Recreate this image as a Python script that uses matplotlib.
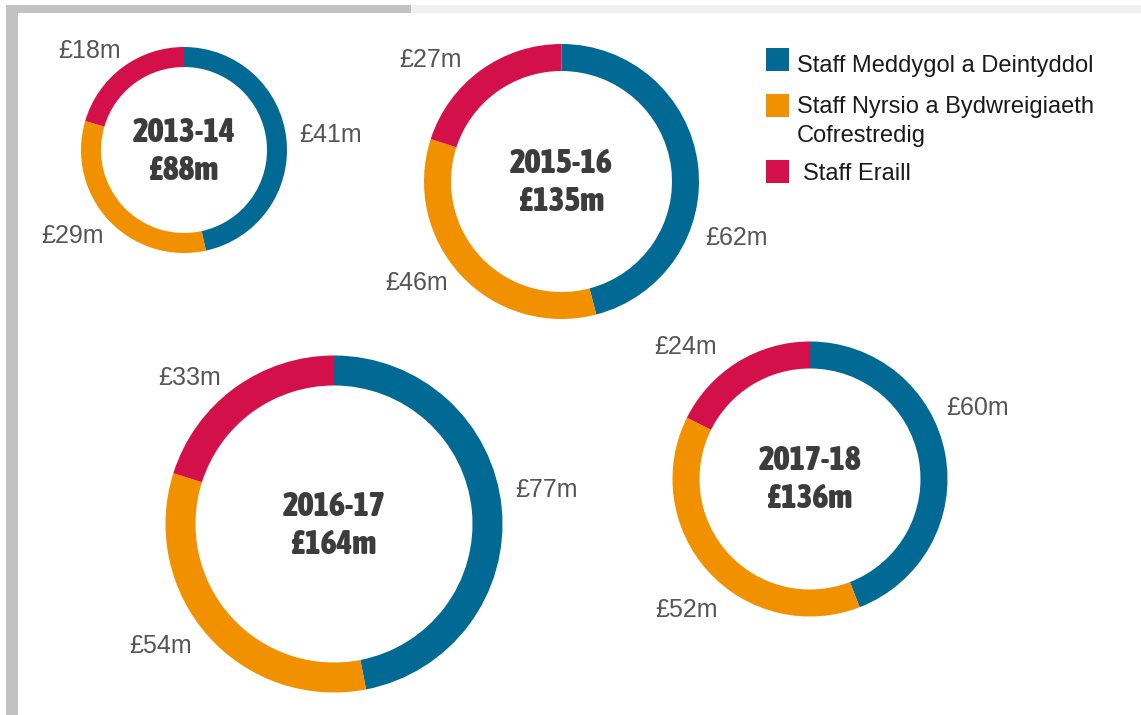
import matplotlib
matplotlib.use("Agg")
import matplotlib.pyplot as plt
from matplotlib.patches import Wedge, Rectangle
from matplotlib import font_manager

# data
years = ['2013-14', '2015-16', '2016-17', '2017-18']
totals = [88, 135, 164, 136]
medical = [41, 62, 77, 60]   # Staff Meddygol a Deintyddol
nursing = [29, 46, 54, 52]   # Staff Nyrsio a Bydwreigiaeth Cofrestredig
other = [18, 27, 33, 24]     # Staff Eraill
legend_labels = ['Staff Meddygol a Deintyddol',
                 'Staff Nyrsio a Bydwreigiaeth\nCofrestredig',
                 'Staff Eraill']

colors = ['#006a94', '#f29100', '#d4104a']

# layout (pixels): donut centre, outer radius, ring width
centres = [(184, 150), (561.5, 181.5), (334, 524), (810, 479)]
radii = [103, 137.5, 168.5, 137.5]
ring = [20, 27, 30, 27]
# label anchor (x centre, baseline) for medical, nursing, other
label_pos = [
    [(331, 142), (72, 243), (90, 58)],
    [(737, 245), (417, 290), (431, 67)],
    [(546, 497), (161, 653), (190, 385)],
    [(978, 415), (686, 617), (686, 354)],
]

# pick a heavy condensed face for the centre text if one is installed
stretch_rank = {'ultra-condensed': 0, 'extra-condensed': 1, 'condensed': 2, 'semi-condensed': 3}
cands = []
for f in font_manager.fontManager.ttflist:
    st = f.stretch
    w = f.weight if isinstance(f.weight, int) else font_manager.weight_dict.get(f.weight, 400)
    if st in stretch_rank and w >= 700 and 'Mono' not in f.name and 'Serif' not in f.name \
            and 'CJK' not in f.name and 'italic' not in f.style.lower() and 'oblique' not in f.style.lower():
        cands.append((stretch_rank[st], -w, f.name, f.fname))
if cands:
    cands.sort()
    bold_font = dict(fontproperties=font_manager.FontProperties(fname=cands[0][3], size=24))
else:
    bold_font = dict(family='DejaVu Sans', weight='bold', stretch='condensed', size=20)

fig = plt.figure(figsize=(11.41, 7.15), dpi=100)
ax = fig.add_axes([0, 0, 1, 1])
ax.set_xlim(0, 1141)
ax.set_ylim(715, 0)
ax.axis('off')

# frame bits
ax.add_patch(Rectangle((6, 5), 12, 710, color='#c2c2c2', lw=0))
ax.add_patch(Rectangle((6, 5), 405, 8, color='#c2c2c2', lw=0))
ax.add_patch(Rectangle((411, 5), 730, 8, color='#f0f0f0', lw=0))

for i in range(len(years)):
    vals = [medical[i], nursing[i], other[i]]
    total = sum(vals)
    start = -90
    for j, v in enumerate(vals):
        end = start + 360 * v / total
        ax.add_patch(Wedge(centres[i], radii[i], start, end, width=ring[i],
                           facecolor=colors[j], edgecolor='none', lw=0))
        x, y = label_pos[i][j]
        ax.text(x, y, f'£{v}m', ha='center', va='baseline', fontsize=18,
                family='Liberation Sans', color='#555555')
        start = end
    cx, cy = centres[i]
    ax.text(cx, cy - 18, years[i], ha='center', va='center', color='#3c3c3c', **bold_font)
    ax.text(cx, cy + 20, f'£{totals[i]}m', ha='center', va='center', color='#3c3c3c', **bold_font)

# legend
sq_y = [48, 94, 160]
txt_pos = [(797, 72), (797, 113), (803, 180)]
for j in range(3):
    ax.add_patch(Rectangle((766, sq_y[j]), 23, 23, color=colors[j], lw=0))
    lines = legend_labels[j].split('\n')
    for k, line in enumerate(lines):
        ax.text(txt_pos[j][0], txt_pos[j][1] + 29 * k, line, ha='left', va='baseline',
                fontsize=17, family='Liberation Sans', color='#1a1a1a')

fig.savefig('out.png', dpi=100, facecolor='white')
